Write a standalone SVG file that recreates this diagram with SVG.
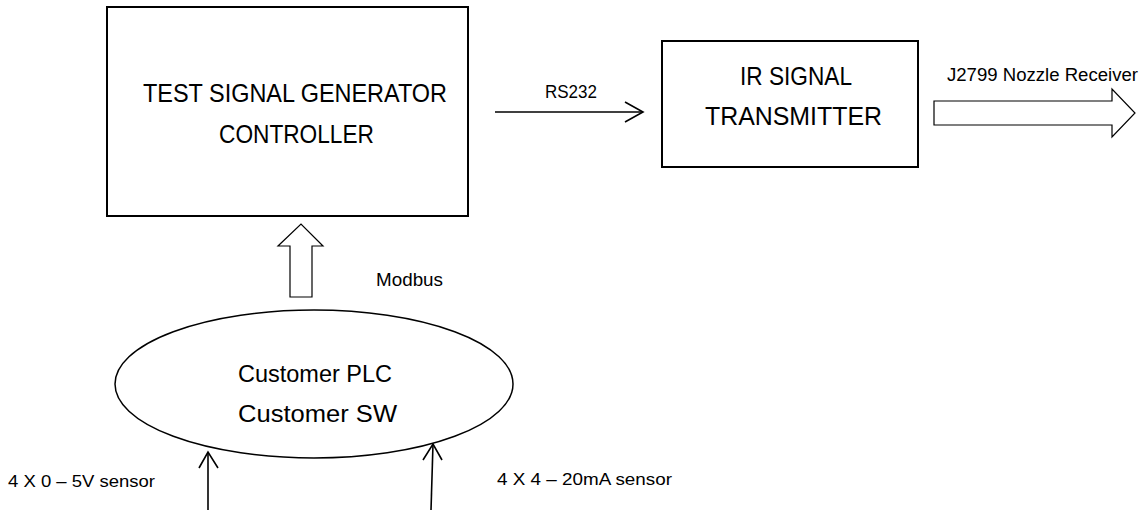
<svg xmlns="http://www.w3.org/2000/svg" width="1148" height="510" viewBox="0 0 1148 510">
<style>
  text { font-family: "Liberation Sans", Arial, sans-serif; fill: #000; }
  .big { font-size: 25px; }
  .med { font-size: 23px; }
  .sm { font-size: 18px; }
  .xs { font-size: 17px; }
  .box { fill: #fff; stroke: #000; stroke-width: 2; }
  .ln { fill: none; stroke: #000; stroke-width: 1.6; }
  .hollow { fill: #fff; stroke: #000; stroke-width: 1.2; stroke-linejoin: miter; }
</style>
<rect width="1148" height="510" fill="#fff"/>
<g id="connectors">
  <g id="rs232">
    <path class="ln" d="M495 112 H642"/>
    <path class="ln" d="M625 102 L643 112 L625 122"/>
    <text class="sm" x="545" y="98" textLength="52" lengthAdjust="spacingAndGlyphs">RS232</text>
  </g>
  <g id="j2799">
    <polygon class="hollow" points="934,101 1112,101 1112,89 1135,113 1112,137 1112,125 934,125"/>
    <text class="sm" x="947" y="81" textLength="191" lengthAdjust="spacingAndGlyphs">J2799 Nozzle Receiver</text>
  </g>
  <g id="modbus">
    <polygon class="hollow" points="290,297 290,246 278,246 301,224 323,246 312,246 312,297"/>
    <text class="sm" x="376" y="286" textLength="67" lengthAdjust="spacingAndGlyphs">Modbus</text>
  </g>
  <g id="sensor-v">
    <path class="ln" d="M208 510 L208 452"/>
    <path class="ln" d="M199 468 L208 452 L218 468"/>
    <text class="xs" x="8" y="487" textLength="147" lengthAdjust="spacingAndGlyphs">4 X 0 – 5V sensor</text>
  </g>
  <g id="sensor-ma">
    <path class="ln" d="M431 510 L433 444"/>
    <path class="ln" d="M423 460 L433 444 L442 460"/>
    <text class="xs" x="497" y="485" textLength="175" lengthAdjust="spacingAndGlyphs">4 X 4 – 20mA sensor</text>
  </g>
</g>
<g id="controller">
  <rect class="box" x="107" y="7" width="361" height="209"/>
  <text class="big" x="143" y="102" textLength="304" lengthAdjust="spacingAndGlyphs">TEST SIGNAL GENERATOR</text>
  <text class="big" x="219" y="143" textLength="155" lengthAdjust="spacingAndGlyphs">CONTROLLER</text>
</g>
<g id="transmitter">
  <rect class="box" x="662" y="41" width="256" height="126"/>
  <text class="big" x="740" y="85" textLength="112" lengthAdjust="spacingAndGlyphs">IR SIGNAL</text>
  <text class="big" x="705" y="125" textLength="177" lengthAdjust="spacingAndGlyphs">TRANSMITTER</text>
</g>
<g id="plc">
  <ellipse cx="314" cy="384" rx="199" ry="74" fill="#fff" stroke="#000" stroke-width="1.5"/>
  <text class="med" x="238" y="382" textLength="154" lengthAdjust="spacingAndGlyphs">Customer PLC</text>
  <text class="med" x="238" y="422" textLength="159" lengthAdjust="spacingAndGlyphs">Customer SW</text>
</g>
</svg>
